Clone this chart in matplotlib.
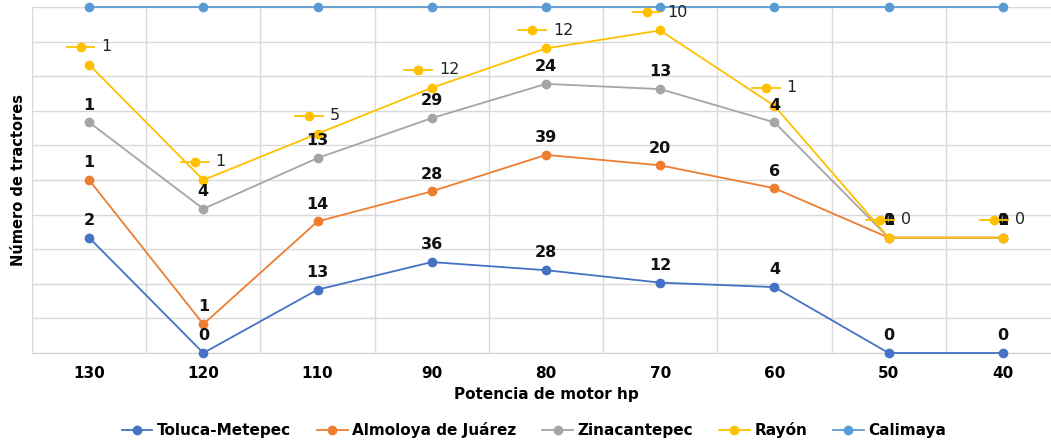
import matplotlib
matplotlib.use("Agg")
import matplotlib.pyplot as plt
import numpy as np
from matplotlib.offsetbox import AnnotationBbox, DrawingArea, HPacker, TextArea
from matplotlib.lines import Line2D

# Potencia de motor (hp) y numero de tractores por municipio
categorias = ["130", "120", "110", "90", "80", "70", "60", "50", "40"]
toluca = [2, 0, 13, 36, 28, 12, 4, 0, 0]
almoloya = [1, 1, 14, 28, 39, 20, 6, 1, 1]
zinacantepec = [1, 4, 13, 29, 24, 13, 4, 0, 0]
rayon = [1, 1, 5, 12, 12, 10, 1, 0, 0]
calimaya = [1, 6, 26, 32, 14, 4, 6, 2, 2]

nombres = ["Toluca-Metepec", "Almoloya de Juárez", "Zinacantepec", "Rayón", "Calimaya"]
colores = ["#4472C4", "#ED7D31", "#A5A5A5", "#FFC000", "#5B9BD5"]

series = np.array([toluca, almoloya, zinacantepec, rayon, calimaya], dtype=float)
acumulado = np.cumsum(series, axis=0) / series.sum(axis=0) * 100

fig = plt.figure(figsize=(10.51, 4.42), dpi=100)
ax = fig.add_axes([32 / 1051, 1 - 353 / 442, 1028 / 1051, 346 / 442])

x = np.arange(len(categorias))
for i in range(len(nombres)):
    ax.plot(x, acumulado[i], color=colores[i], lw=1.3, marker="o", ms=6,
            label=nombres[i], clip_on=False, zorder=3 + i)

# etiquetas en negrita para las tres primeras series
for i in range(3):
    for xi, yi, v in zip(x, acumulado[i], series[i]):
        ax.annotate(str(int(v)), (xi, yi), xytext=(0, 7), textcoords="offset points",
                    ha="center", va="bottom", fontsize=11.5, fontweight="bold",
                    color="#111111", zorder=10)

# etiquetas de Rayon con clave de leyenda
for xi, yi, v in zip(x, acumulado[3], series[3]):
    da = DrawingArea(20, 8, 0, 0)
    da.add_artist(Line2D([0, 20], [4, 4], color=colores[3], lw=1.3))
    da.add_artist(Line2D([10], [4], marker="o", ms=6, color=colores[3]))
    txt = TextArea(str(int(v)), textprops=dict(fontsize=11.5, color="#222222"))
    box = HPacker(children=[da, txt], align="center", pad=0, sep=5)
    ab = AnnotationBbox(box, (xi, yi), xybox=(0, 13), xycoords="data",
                        boxcoords="offset points", frameon=False,
                        box_alignment=(0.5, 0.5), zorder=12)
    ax.add_artist(ab)

ax.set_xlim(-0.5, len(categorias) - 0.5)
ax.set_ylim(0, 100)
ax.set_xticks(x)
ax.set_xticklabels(categorias, fontsize=11, fontweight="bold")
ax.set_yticks(np.arange(0, 101, 10))
ax.set_yticklabels([])
ax.set_xticks(np.arange(-0.5, len(categorias), 1), minor=True)
ax.tick_params(axis="both", which="both", length=0)
ax.tick_params(axis="x", pad=9)
ax.grid(axis="y", color="#d9d9d9", lw=1)
ax.grid(axis="x", which="minor", color="#d9d9d9", lw=1)
ax.grid(axis="x", which="major", visible=False)
for s in ["top", "right"]:
    ax.spines[s].set_visible(False)
ax.spines["left"].set_color("#d9d9d9")
ax.spines["bottom"].set_color("#d0d0d0")

ax.set_xlabel("Potencia de motor hp", fontsize=11, fontweight="bold", labelpad=5)
ax.set_ylabel("Número de tractores", fontsize=10.5, fontweight="bold", labelpad=1)

fig.legend(loc="center", bbox_to_anchor=(534 / 1051, 1 - 430 / 442), ncol=5,
           frameon=False, prop=dict(size=11, weight="bold"), handlelength=2,
           columnspacing=1.7, handletextpad=0.3)

fig.savefig("out.png", dpi=100)
